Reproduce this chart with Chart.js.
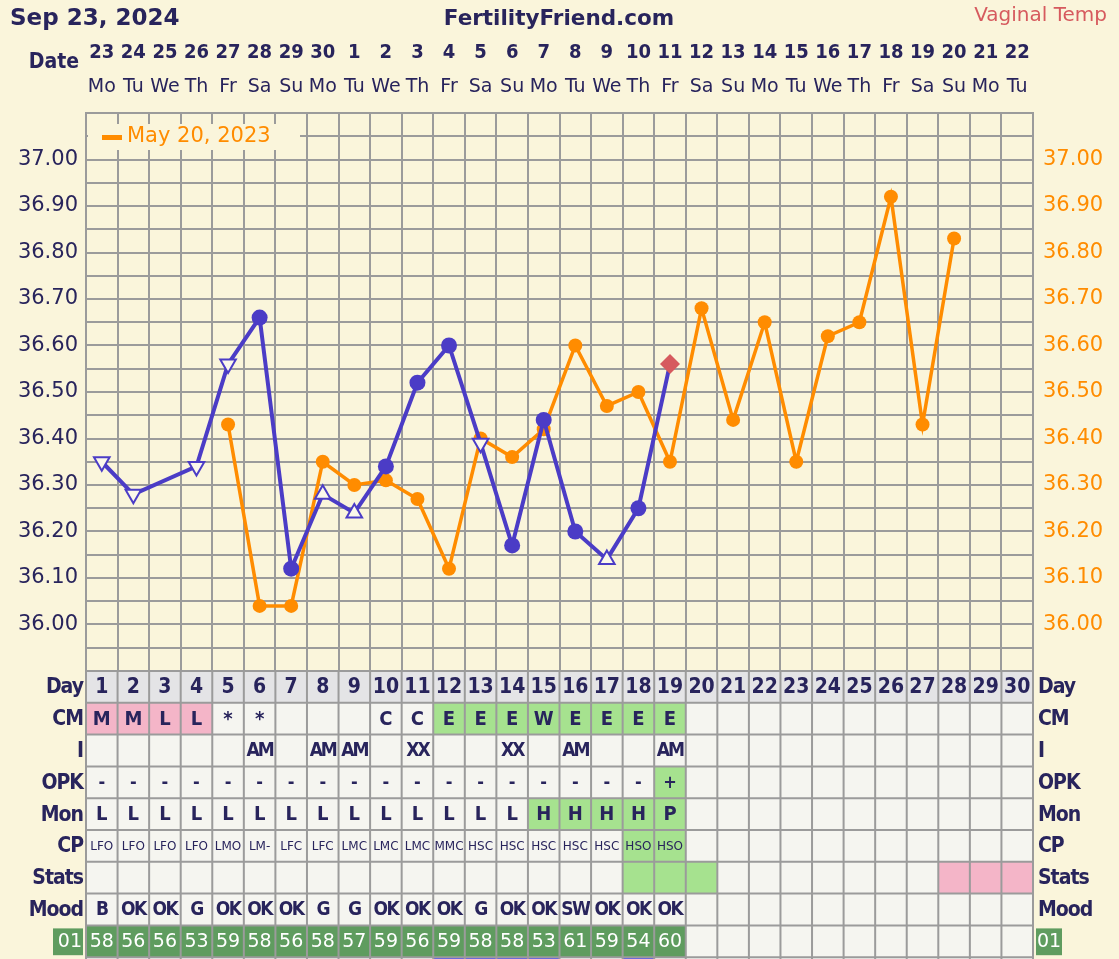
<!DOCTYPE html>
<html>
<head>
<meta charset="utf-8">
<script src="https://cdn.jsdelivr.net/npm/chart.js@4.4.1/dist/chart.umd.min.js"></script>
<style>
  html, body { margin: 0; padding: 0; background: #faf5db; }
  canvas { display: block; }
</style>
</head>
<body>
<canvas id="bbt" width="1119" height="959"></canvas>
<script>
// cycle days and calendar labels
const cycleDays = ['1','2','3','4','5','6','7','8','9','10','11','12','13','14','15',
                   '16','17','18','19','20','21','22','23','24','25','26','27','28','29','30'];
const dateNums = ['23','24','25','26','27','28','29','30','1','2','3','4','5','6','7',
                  '8','9','10','11','12','13','14','15','16','17','18','19','20','21','22'];
const dayNames = ['Mo','Tu','We','Th','Fr','Sa','Su','Mo','Tu','We','Th','Fr','Sa','Su','Mo',
                  'Tu','We','Th','Fr','Sa','Su','Mo','Tu','We','Th','Fr','Sa','Su','Mo','Tu'];

// temperatures (current cycle + overlay May 20, 2023)
const tempsCurrent = [36.35, 36.28, null, 36.34, 36.56, 36.66, 36.12, 36.28, 36.24, 36.34,
                      36.52, 36.60, 36.39, 36.17, 36.44, 36.20, 36.14, 36.25, 36.56];
const pointKinds = ['down','down','','down','down','dot','dot','up','up','dot',
                    'dot','dot','down','dot','dot','dot','up','dot','diamond'];
const tempsOverlay = [null, null, null, null, 36.43, 36.04, 36.04, 36.35, 36.30, 36.31,
                      36.27, 36.12, 36.40, 36.36, 36.42, 36.60, 36.47, 36.50, 36.35, 36.68,
                      36.44, 36.65, 36.35, 36.62, 36.65, 36.92, 36.43, 36.83];
const overlayLabel = 'May 20, 2023';

// chart table rows (p = pink, g = green)
const cmRow   = ['M','M','L','L','*','*','','','','C','C','E','E','E','W','E','E','E','E'];
const cmFill  = ['p','p','p','p','','','','','','','','g','g','g','g','g','g','g','g'];
const iRow    = ['','','','','','AM','','AM','AM','','XX','','','XX','','AM','','','AM'];
const opkRow  = ['-','-','-','-','-','-','-','-','-','-','-','-','-','-','-','-','-','-','+'];
const opkFill = ['','','','','','','','','','','','','','','','','','','g'];
const monRow  = ['L','L','L','L','L','L','L','L','L','L','L','L','L','L','H','H','H','H','P'];
const monFill = ['','','','','','','','','','','','','','','g','g','g','g','g'];
const cpRow   = ['LFO','LFO','LFO','LFO','LMO','LM-','LFC','LFC','LMC','LMC','LMC','MMC',
                 'HSC','HSC','HSC','HSC','HSC','HSO','HSO'];
const cpFill  = ['','','','','','','','','','','','','','','','','','g','g'];
const statsFill = ['','','','','','','','','','','','','','','','','','g','g','g',
                   '','','','','','','','p','p','p'];
const moodRow = ['B','OK','OK','G','OK','OK','OK','G','G','OK','OK','OK','G','OK','OK','SW','OK','OK','OK'];
const scoreRow = ['58','56','56','53','59','58','56','58','57','59','56','59','58','58','53','61','59','54','60'];
const bleedDays = [12, 13, 14, 15, 18];

const CREAM = '#faf5db';
const NAVY = '#28245c';
const BLUE = '#4b3cc6';
const ORANGE = '#ff8c00';
const RED = '#d65a5e';
const GRID = '#9b9b9b';
const CELL = '#f5f5f0';
const DAYROW = '#e4e4e6';
const PINK = '#f4b5c8';
const LGREEN = '#a6e28f';
const DGREEN = '#5f9c5f';
const SANS = "'DejaVu Sans', sans-serif";
const COND = "'DejaVu Sans Condensed', 'DejaVu Sans', sans-serif";

function tempLabel(v) {
  const h = Math.round(v * 100);
  return (h % 10 === 0 && h >= 3600 && h <= 3700) ? (h / 100).toFixed(2) : '';
}

const fillColor = f => f === 'p' ? PINK : f === 'g' ? LGREEN : CELL;

const sheet = {
  id: 'sheet',
  beforeDraw(chart) {
    const c = chart.ctx;
    c.save();
    c.fillStyle = CREAM;
    c.fillRect(0, 0, chart.width, chart.height);
    c.restore();
  },
  beforeDatasetsDraw(chart) {
    // legend box for the overlay cycle
    const c = chart.ctx, a = chart.chartArea;
    c.save();
    c.fillStyle = CREAM;
    c.fillRect(a.left + 2, a.top + 11, 212, 26);
    c.fillStyle = ORANGE;
    c.fillRect(a.left + 16, a.top + 22, 20, 5);
    c.font = '21px ' + SANS;
    c.textBaseline = 'middle';
    c.fillText(overlayLabel, a.left + 41, a.top + 24);
    c.restore();
  },
  afterDraw(chart) {
    const c = chart.ctx, a = chart.chartArea, xs = chart.scales.x;
    c.save();
    // header
    c.fillStyle = NAVY;
    c.textBaseline = 'alphabetic';
    c.font = 'bold 23px ' + SANS;
    c.textAlign = 'left';
    c.fillText('Sep 23, 2024', 10, 25);
    c.font = 'bold 21.5px ' + SANS;
    c.textAlign = 'center';
    c.fillText('FertilityFriend.com', 559, 25);
    c.font = '20px ' + SANS;
    c.textAlign = 'right';
    c.fillStyle = RED;
    c.fillText('Vaginal Temp', 1107, 21);
    c.fillStyle = NAVY;
    c.font = 'bold 21px ' + COND;
    c.textBaseline = 'middle';
    c.fillText('Date', 79, 63);

    // calendar dates above the plot, placed on the x scale
    c.textAlign = 'center';
    dateNums.forEach((d, i) => {
      const x = xs.getPixelForValue(i);
      c.font = 'bold 20px ' + COND;
      c.fillText(d, x, 53);
      c.font = '19px ' + SANS;
      c.fillText(dayNames[i], x, 87);
    });

    // table
    const cw = xs.getPixelForValue(1) - xs.getPixelForValue(0);
    const left = xs.getPixelForValue(0) - cw / 2;
    const right = left + cw * cycleDays.length;
    const top = a.bottom;
    const rh = 31.8;
    const rows = [
      { label: 'Day', text: cycleDays, fill: [], font: 'bold 21px ' + COND, bg: DAYROW },
      { label: 'CM', text: cmRow, fill: cmFill, font: 'bold 20px ' + COND },
      { label: 'I', text: iRow, fill: [], font: 'bold 19px ' + COND, ls: -2 },
      { label: 'OPK', text: opkRow, fill: opkFill, font: 'bold 18px ' + COND },
      { label: 'Mon', text: monRow, fill: monFill, font: 'bold 20px ' + COND },
      { label: 'CP', text: cpRow, fill: cpFill, font: '12px ' + SANS },
      { label: 'Stats', text: [], fill: statsFill, font: 'bold 19px ' + COND },
      { label: 'Mood', text: moodRow, fill: [], font: 'bold 19px ' + COND, ls: -1.5 },
      { label: '01', text: scoreRow, fill: [], font: '19px ' + SANS, score: true }
    ];
    rows.forEach((row, r) => {
      const y0 = top + r * rh;
      for (let i = 0; i < cycleDays.length; i++) {
        const x0 = left + i * cw;
        let bg = row.bg || fillColor(row.fill[i]);
        if (row.score && row.text[i]) bg = DGREEN;
        c.fillStyle = bg;
        c.fillRect(x0, y0, cw, rh);
        const t = row.text[i];
        if (t) {
          c.font = row.font;
          c.fillStyle = row.score ? '#ffffff' : NAVY;
          c.textAlign = 'center';
          c.textBaseline = 'middle';
          c.letterSpacing = (row.ls || 0) + 'px';
          c.fillText(t, x0 + cw / 2, y0 + rh / 2 + 1);
          c.letterSpacing = '0px';
        }
      }
      // row labels both sides
      const ym = y0 + rh / 2 + 1;
      if (row.score) {
        c.fillStyle = DGREEN;
        c.fillRect(53, y0 + 3, 30, rh - 5);
        c.fillRect(right + 3, y0 + 3, 26, rh - 5);
        c.fillStyle = '#ffffff';
        c.font = '19px ' + SANS;
        c.textAlign = 'right';
        c.fillText(row.label, 82, ym);
        c.textAlign = 'left';
        c.fillText(row.label, right + 4, ym);
      } else {
        c.fillStyle = NAVY;
        c.font = 'bold 21px ' + COND;
        c.letterSpacing = '-1px';
        c.textAlign = 'right';
        c.fillText(row.label, 83, ym);
        c.textAlign = 'left';
        c.fillText(row.label, right + 5, ym);
        c.letterSpacing = '0px';
      }
    });
    // partial next row at the bottom edge
    const yb = top + rows.length * rh;
    c.fillStyle = CELL;
    c.fillRect(left, yb, right - left, chart.height - yb);
    c.fillStyle = '#5a5af0';
    bleedDays.forEach(d => c.fillRect(left + (d - 1) * cw, yb, cw, 3));
    // grid lines
    c.strokeStyle = GRID;
    c.lineWidth = 2;
    c.beginPath();
    for (let i = 0; i <= cycleDays.length; i++) {
      const x = left + i * cw;
      c.moveTo(x, top);
      c.lineTo(x, chart.height);
    }
    for (let r = 0; r <= rows.length; r++) {
      const y = top + r * rh;
      c.moveTo(left, y);
      c.lineTo(right, y);
    }
    c.stroke();
    c.restore();
  }
};

const tempTicks = (color, pad) => ({
  stepSize: 0.05,
  autoSkip: false,
  padding: pad,
  color: color,
  font: { family: SANS, size: 21 },
  callback: tempLabel
});

new Chart(document.getElementById('bbt'), {
  type: 'line',
  data: {
    labels: cycleDays,
    datasets: [
      {
        label: 'Sep 23, 2024',
        data: tempsCurrent,
        yAxisID: 'y',
        borderColor: BLUE,
        borderWidth: 4,
        spanGaps: true,
        segment: {
          borderDash: s => (s.p1DataIndex - s.p0DataIndex > 1 ? [7, 5] : undefined),
          borderWidth: s => (s.p1DataIndex - s.p0DataIndex > 1 ? 2.5 : undefined)
        },
        pointStyle: pointKinds.map(k => k === 'dot' ? 'circle' : k === 'diamond' ? 'rectRot' : 'triangle'),
        pointRotation: pointKinds.map(k => k === 'down' ? 180 : 0),
        pointRadius: pointKinds.map(k => k === 'dot' ? 8 : k === 'diamond' ? 10 : 9),
        pointBackgroundColor: pointKinds.map(k => k === 'dot' ? BLUE : k === 'diamond' ? RED : '#fbf8ea'),
        pointBorderColor: pointKinds.map(k => k === 'diamond' ? RED : BLUE),
        pointBorderWidth: pointKinds.map(k => k === 'up' || k === 'down' ? 2 : 0)
      },
      {
        label: overlayLabel,
        data: tempsOverlay,
        yAxisID: 'y',
        borderColor: ORANGE,
        borderWidth: 3.5,
        pointStyle: 'circle',
        pointRadius: 7,
        pointBackgroundColor: ORANGE,
        pointBorderWidth: 0
      }
    ]
  },
  options: {
    responsive: false,
    animation: false,
    events: [],
    devicePixelRatio: 1,
    layout: { padding: { top: 113, left: 0, right: 0, bottom: 288 } },
    plugins: { legend: { display: false }, tooltip: { enabled: false } },
    scales: {
      x: {
        type: 'category',
        position: 'bottom',
        offset: true,
        grid: { offset: true, color: GRID, lineWidth: 2, drawTicks: false },
        border: { color: GRID, width: 2 },
        ticks: { display: false },
        afterFit: s => { s.height = 0; }
      },
      y: {
        position: 'left',
        min: 35.9,
        max: 37.1,
        grid: { color: GRID, lineWidth: 2, drawTicks: false },
        border: { color: GRID, width: 2 },
        ticks: tempTicks(NAVY, 8),
        afterFit: s => { s.width = 86; }
      },
      y2: {
        position: 'right',
        min: 35.9,
        max: 37.1,
        grid: { display: false },
        border: { color: GRID, width: 2 },
        ticks: tempTicks(ORANGE, 2),
        afterFit: s => { s.width = 86; }
      }
    }
  },
  plugins: [sheet]
});
</script>
</body>
</html>
